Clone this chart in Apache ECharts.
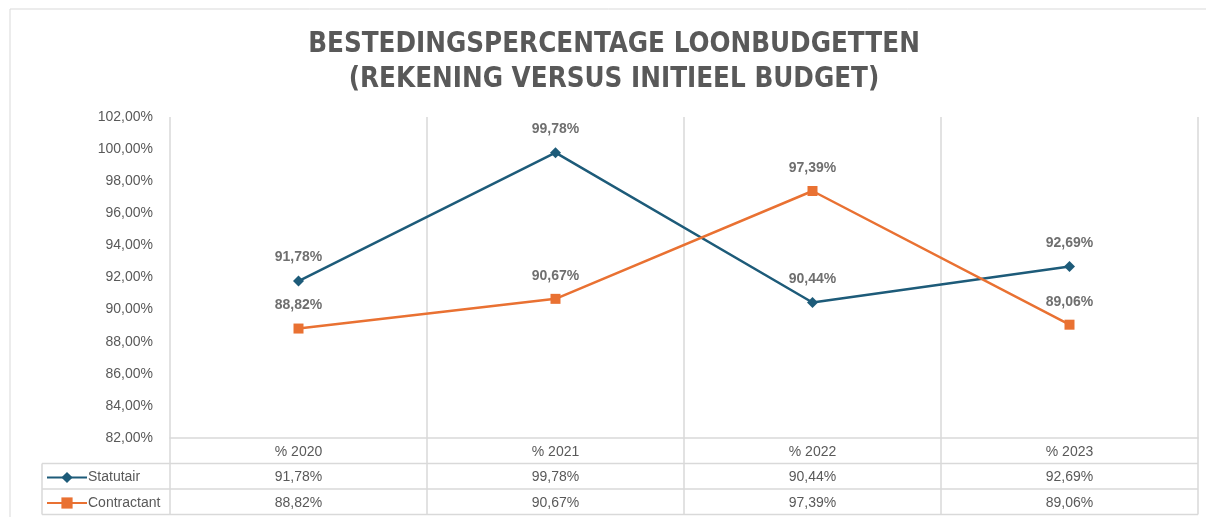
<!DOCTYPE html>
<html>
<head>
<meta charset="utf-8">
<script src="https://cdn.jsdelivr.net/npm/echarts@6/dist/echarts.min.js"></script>
<style>
html,body{margin:0;padding:0;background:#fff;}
#chart{width:1206px;height:517px;}
</style>
</head>
<body>
<div id="chart"></div>
<script>
var categories = ['% 2020', '% 2021', '% 2022', '% 2023'];
var statutair = [91.78, 99.78, 90.44, 92.69];
var contractant = [88.82, 90.67, 97.39, 89.06];
var yTicks = { min: 82, max: 102, interval: 2 };

var textColor = '#595959';
var lineGrey = '#d9d9d9';
var font = 'Liberation Sans';

// grid / table layout
var gLeft = 170, gRight = 1198, gTop = 117, gBottom = 438;
var rowH = 25.5;
var tableLeft = 42;

function pct(v) {
    return v.toFixed(2).replace('.', ',') + '%';
}

var chart = echarts.init(document.getElementById('chart'));

var graphics = [];
// title
graphics.push({
    type: 'text', x: 614, y: 27, silent: true,
    style: {
        text: 'BESTEDINGSPERCENTAGE LOONBUDGETTEN\n(REKENING VERSUS INITIEEL BUDGET)',
        fill: textColor,
        font: 'bold 27.5px "DejaVu Sans Condensed", "Liberation Sans", sans-serif',
        lineHeight: 35,
        align: 'center',
        verticalAlign: 'top'
    }
});
// outer border + table frame lines
graphics.push({ type: 'rect', shape: { x: 10, y: 9, width: 1250, height: 600 },
    style: { fill: 'none', stroke: lineGrey, lineWidth: 1 }, silent: true });
var rows = [gBottom + rowH, gBottom + rowH * 2, gBottom + rowH * 3];
rows.forEach(function (y) {
    graphics.push({ type: 'line', shape: { x1: tableLeft, y1: y, x2: gRight, y2: y },
        style: { stroke: lineGrey, lineWidth: 1.5 }, silent: true });
});
graphics.push({ type: 'line', shape: { x1: tableLeft, y1: rows[0], x2: tableLeft, y2: rows[2] },
    style: { stroke: lineGrey, lineWidth: 1.5 }, silent: true });
for (var i = 0; i <= categories.length; i++) {
    var x = gLeft + (gRight - gLeft) * i / categories.length;
    graphics.push({ type: 'line', shape: { x1: x, y1: gBottom, x2: x, y2: rows[2] },
        style: { stroke: lineGrey, lineWidth: 1.5 }, silent: true });
}

function tableAxis(data, offset) {
    return {
        type: 'category',
        data: data,
        position: 'bottom',
        offset: offset,
        axisLine: { show: false },
        axisTick: { show: false },
        splitLine: { show: false },
        axisLabel: { margin: 7, color: textColor, fontSize: 14, fontFamily: font, interval: 0 }
    };
}

function legendRow(name, top) {
    return {
        left: 46,
        top: top,
        itemWidth: 40,
        itemHeight: 14,
        itemGap: 0,
        padding: 0,
        textStyle: { color: textColor, fontSize: 14, fontFamily: font, padding: [0, 0, 0, -4] },
        data: [name]
    };
}

chart.setOption({
    animation: false,
    backgroundColor: '#fff',
    legend: [
        legendRow('Statutair', rows[0] + 7),
        legendRow('Contractant', rows[1] + 7)
    ],
    graphic: graphics,
    grid: { left: gLeft, right: 1206 - gRight, top: gTop, bottom: 517 - gBottom },
    xAxis: [
        {
            type: 'category',
            data: categories,
            boundaryGap: true,
            axisLine: { lineStyle: { color: lineGrey, width: 1.5 } },
            axisTick: { show: false },
            splitLine: { show: true, lineStyle: { color: lineGrey, width: 1.5 } },
            axisLabel: { margin: 7, color: textColor, fontSize: 14, fontFamily: font, interval: 0 }
        },
        tableAxis(statutair.map(pct), rowH),
        tableAxis(contractant.map(pct), rowH * 2)
    ],
    yAxis: {
        type: 'value',
        min: yTicks.min,
        max: yTicks.max,
        interval: yTicks.interval,
        axisLine: { show: false },
        axisTick: { show: false },
        splitLine: { show: false },
        axisLabel: {
            margin: 17,
            color: textColor,
            fontSize: 14,
            fontFamily: font,
            formatter: function (v) { return pct(v); }
        }
    },
    series: [
        {
            name: 'Statutair',
            type: 'line',
            data: statutair,
            color: '#1d5b79',
            symbol: 'diamond',
            symbolSize: 11,
            lineStyle: { width: 2.5 },
            label: {
                show: true, position: 'top', distance: 11,
                color: '#6f6f6f', fontWeight: 'bold', fontSize: 14, fontFamily: font,
                formatter: function (p) { return pct(p.value); }
            }
        },
        {
            name: 'Contractant',
            type: 'line',
            data: contractant,
            color: '#e97132',
            symbol: 'rect',
            symbolSize: 10,
            lineStyle: { width: 2.5 },
            label: {
                show: true, position: 'top', distance: 11,
                color: '#6f6f6f', fontWeight: 'bold', fontSize: 14, fontFamily: font,
                formatter: function (p) { return pct(p.value); }
            }
        }
    ]
});
</script>
</body>
</html>
